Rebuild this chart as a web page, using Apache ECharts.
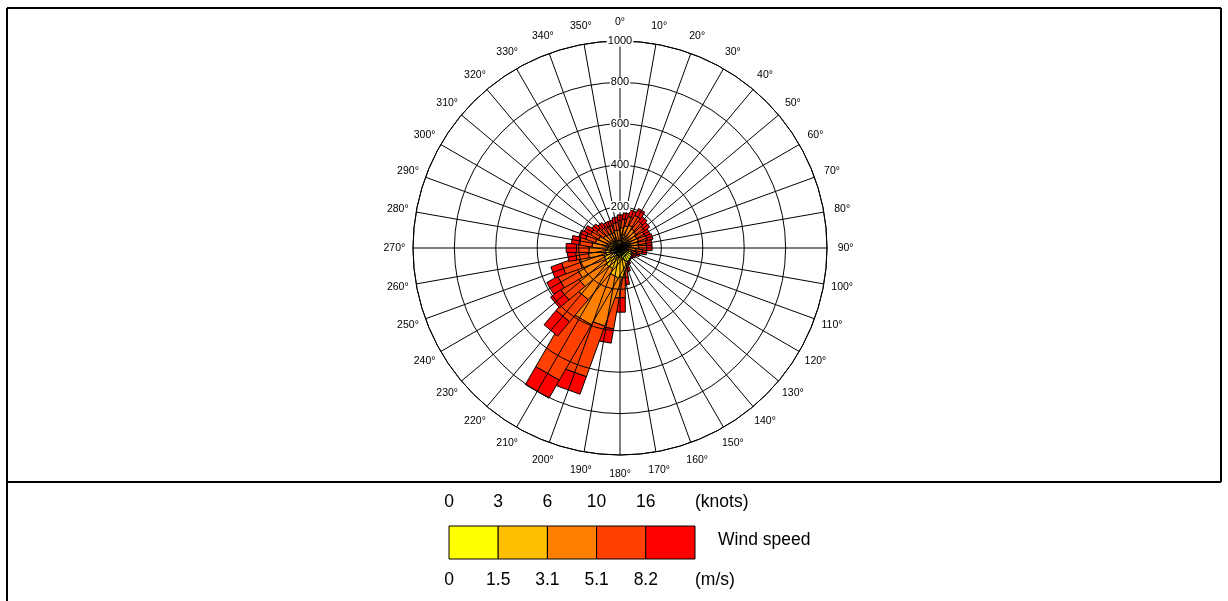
<!DOCTYPE html>
<html><head><meta charset="utf-8">
<script src="https://cdn.jsdelivr.net/npm/echarts@6/dist/echarts.min.js"></script>
<style>html,body{margin:0;padding:0;background:#fff}#c{width:1228px;height:601px}</style>
</head><body><div id="c"></div>
<script>
// Direction categories (degrees, clockwise from north)
const directions = [0,10,20,30,40,50,60,70,80,90,100,110,120,130,140,150,160,170,180,190,200,210,220,230,240,250,260,270,280,290,300,310,320,330,340,350];
// Counts per speed class (stacked)
const speed0to1_5 = [12,12,14,15,14,13,12,12,12,12,10,8,7,6,6,7,9,12,25,30,40,40,30,30,25,25,20,20,15,15,15,12,11,10,10,11];
const speed1_5to3_1 = [25,28,30,32,30,28,26,27,25,25,22,17,15,14,14,16,20,28,50,70,90,90,70,70,65,60,50,50,45,40,35,30,27,25,25,25];
const speed3_1to5_1 = [55,58,65,70,63,60,55,56,53,53,45,35,30,27,27,30,40,60,70,140,250,260,190,150,140,120,85,80,75,65,60,50,47,45,45,50];
const speed5_1to8_2 = [40,42,48,55,48,44,40,42,38,38,32,25,20,18,18,22,30,45,95,150,260,310,140,100,100,85,60,60,60,50,45,43,38,35,35,37];
const speedAbove8_2 = [28,30,33,38,30,30,27,28,27,27,21,15,13,10,10,15,21,35,70,70,90,100,90,60,60,55,40,50,40,35,35,30,27,25,25,27];
const speedColors = ['#FFFF00','#FFBF00','#FF8000','#FF4000','#FF0000'];
const knotsTicks = ['0','3','6','10','16'];
const msTicks = ['0','1.5','3.1','5.1','8.2'];
const angleLabels = directions.map(d => d + '°');
const radiusMax = 1000, radiusStep = 200, angleStep = 10;

const FONT = "'Liberation Sans', Arial, sans-serif";
const chart = echarts.init(document.getElementById('c'), null, {renderer:'canvas'});
const seriesData = [speed0to1_5, speed1_5to3_1, speed3_1to5_1, speed5_1to8_2, speedAbove8_2];
const totals = directions.map((d, i) => seriesData.reduce((s, arr) => s + arr[i], 0));

const center = [620, 248], R = 207;
const halfBar = 4.7;        // degrees, half width of a bar at its tip
const labelRadius = 1090;   // radial position (data units) of the direction labels

// legend graphics
const lgX = 449, lgY = 526, cw = 49.2, ch = 33;
const graphics = [];
speedColors.forEach((c, i) => {
  graphics.push({type:'rect', shape:{x:lgX+i*cw, y:lgY, width:cw, height:ch}, style:{fill:c, stroke:'#000', lineWidth:1}});
});
const lf = '17.5px ' + FONT;
knotsTicks.forEach((t, i) => {
  graphics.push({type:'text', x:lgX+i*cw, y:502, style:{text:t, font:lf, fill:'#000', textAlign:'center', textVerticalAlign:'middle'}});
});
msTicks.forEach((t, i) => {
  graphics.push({type:'text', x:lgX+i*cw, y:580, style:{text:t, font:lf, fill:'#000', textAlign:'center', textVerticalAlign:'middle'}});
});
graphics.push({type:'text', x:695, y:502, style:{text:'(knots)', font:lf, fill:'#000', textAlign:'left', textVerticalAlign:'middle'}});
graphics.push({type:'text', x:695, y:580, style:{text:'(m/s)', font:lf, fill:'#000', textAlign:'left', textVerticalAlign:'middle'}});
graphics.push({type:'text', x:718, y:540, style:{text:'Wind speed', font:lf, fill:'#000', textAlign:'left', textVerticalAlign:'middle'}});
// frame
const frame = [[7,8,1221,8],[7,8,7,601],[1221,8,1221,482],[7,482,1221,482]];
frame.forEach(f => graphics.push({type:'line', shape:{x1:f[0],y1:f[1],x2:f[2],y2:f[3]}, style:{stroke:'#000', lineWidth:2}}));

function norm(a){ return ((a % 360) + 360) % 360; }

function renderBars(params, api) {
  const i = params.dataIndex;
  const dir = directions[i];
  const w = totals[i] * Math.tan(halfBar * Math.PI / 180);
  const toPt = (a, p) => {
    const rad = Math.sqrt(a*a + p*p);
    const ang = norm(dir + Math.atan2(p, a) * 180 / Math.PI);
    return api.coord([rad, ang]);
  };
  let cum = 0;
  const children = [];
  seriesData.forEach((arr, k) => {
    const r0 = cum, r1 = cum + arr[i];
    cum = r1;
    children.push({
      type:'polygon',
      shape:{points:[toPt(r0,-w), toPt(r1,-w), toPt(r1,w), toPt(r0,w)]},
      style:{fill:speedColors[k], stroke:'#000', lineWidth:1}
    });
  });
  return {type:'group', children};
}

function renderLabels(params, api) {
  const i = params.dataIndex;
  const p = api.coord([labelRadius, directions[i]]);
  return {type:'text', x:p[0], y:p[1], silent:true,
    style:{text:angleLabels[i], font:'10.5px ' + FONT, fill:'#000', textAlign:'center', textVerticalAlign:'middle'}};
}

const option = {
  backgroundColor:'#fff',
  animation:false,
  textStyle:{fontFamily:FONT},
  polar:{center:center, radius:R},
  angleAxis:{
    type:'value', min:0, max:360, interval:angleStep, startAngle:90, clockwise:true, z:5,
    axisLine:{show:true, lineStyle:{color:'#000', width:1}},
    axisTick:{show:false},
    splitLine:{show:true, lineStyle:{color:'#000', width:1}},
    axisLabel:{show:false}
  },
  radiusAxis:{
    type:'value', min:0, max:radiusMax, interval:radiusStep, z:6,
    axisLine:{show:false}, axisTick:{show:false},
    splitLine:{show:true, lineStyle:{color:'#000', width:1}},
    axisLabel:{show:true, margin:0, align:'center', verticalAlign:'middle', fontSize:11, color:'#000', fontFamily:FONT,
      backgroundColor:'#fff', padding:[0,1], showMinLabel:false, formatter:v => String(v)}
  },
  series:[{
    type:'custom', coordinateSystem:'polar', z:2,
    data: directions.map((d, i) => [totals[i], d]),
    renderItem: renderBars
  },{
    type:'custom', coordinateSystem:'polar', z:7, silent:true,
    data: directions.map(d => [labelRadius, d]),
    renderItem: renderLabels
  }],
  graphic: graphics
};
chart.setOption(option);
</script></body></html>
